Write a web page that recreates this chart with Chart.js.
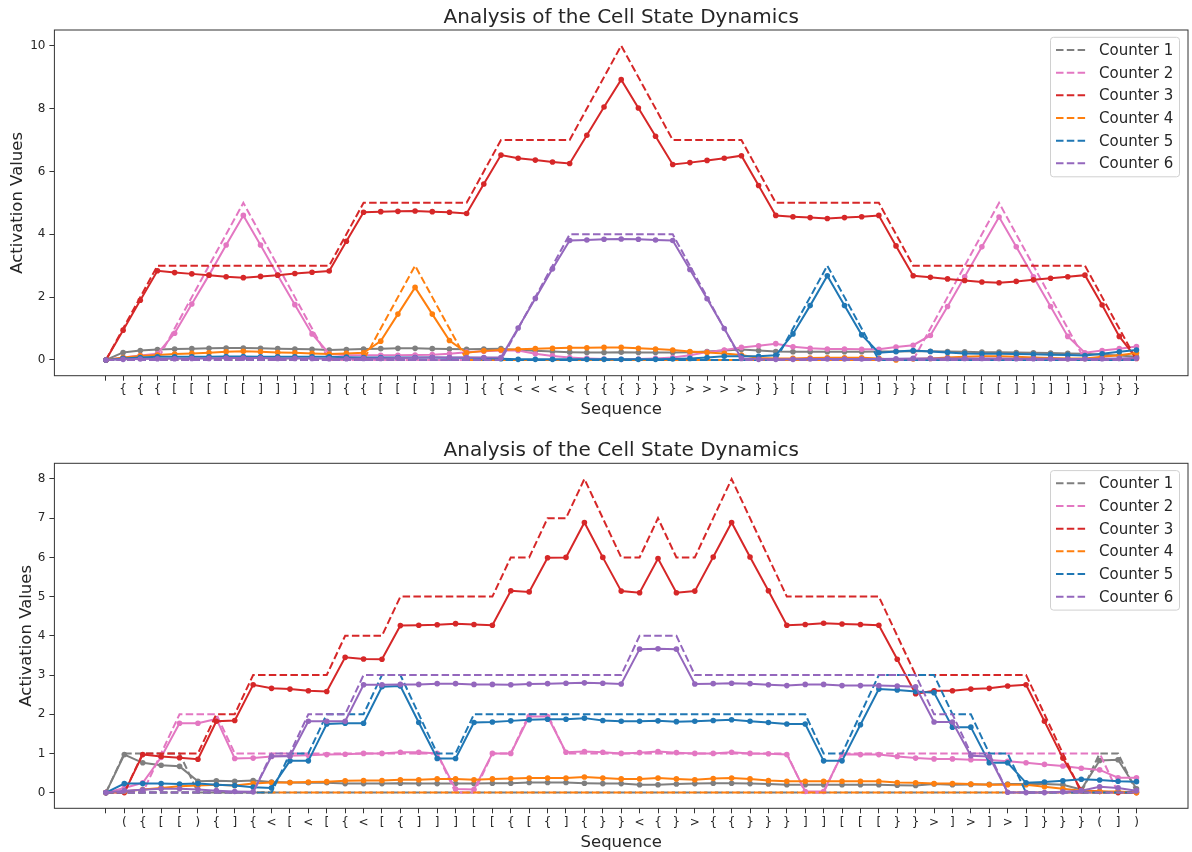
<!DOCTYPE html>
<html><head><meta charset="utf-8">
<script src="https://cdn.jsdelivr.net/npm/chart.js@4.4.1/dist/chart.umd.min.js"></script>
<style>
html,body{margin:0;padding:0;background:#fff;width:1192px;height:852px;overflow:hidden;}
canvas{position:absolute;left:0;}
#c1{top:0}#c2{top:426px}
</style></head><body>
<canvas id="c1" width="1192" height="426"></canvas>
<canvas id="c2" width="1192" height="426"></canvas>
<script>
// ---------------- data: top panel ----------------
const topLabels = ['', '{','{','{','[','[','[','[','[',']',']',']',']',']','{','{','[','[','[',']',']',']','{','{','<','<','<','<','{','{','{','}','}','}','>','>','>','>','}','}','[','[','[',']',']',']','}','}','[','[','[','[','[',']',']',']',']',']','}','}','}'];
const topC1 = [0,.24,.3,.33,.35,.36,.37,.38,.38,.37, .36,.35,.34,.32,.33,.35,.36,.37,.37,.36, .35,.34,.35,.36,.32,.29,.27,.25,.24,.24, .25,.24,.24,.24,.25,.27,.3,.33,.3,.27, .26,.26,.26,.26,.26,.27,.27,.28,.28,.27, .26,.25,.25,.24,.23,.22,.21,.2,.17,.14,.1];
const topC2 = [0,.08,.14,.2,.85,1.78,2.7,3.66,4.6,3.66,2.7,1.76,.83,.2, .15,.15,.15,.15,.16,.17,.2,.25,.28,.3,.3,.2,.13,.08, .05,.03,.02,.03,.05,.08, .15,.25,.32,.4,.45,.52,.42,.37,.35,.35,.34,.34,.41,.47, .78,1.7,2.65,3.6,4.55,3.6,2.65,1.7,.75,.23, .3,.36,.43];
const topC3 = [0,.95,1.9,2.84,2.78,2.74,2.7,2.65,2.62,2.66,2.7,2.75,2.79,2.83, 3.78,4.7,4.72,4.73,4.74,4.72,4.7,4.66, 5.6,6.52,6.42,6.36,6.3,6.25, 7.15,8.05,8.92,8.02,7.12,6.22, 6.28,6.35,6.42,6.5, 5.55,4.6,4.56,4.53,4.5,4.53,4.56,4.6, 3.63,2.68,2.63,2.58,2.53,2.48,2.46,2.5,2.55,2.6,2.65,2.7, 1.75,.75,.05];
const topC4 = [0,.08,.13,.16,.19,.21,.23,.26,.28,.26, .24,.23,.21,.19,.21,.23,.6,1.46,2.31,1.46, .62,.23,.29,.32,.34,.36,.37,.39,.39,.4, .4,.37,.35,.32,.27,.24,.21,.16,.06,.05, .05,.06,.07,.07,.07,.05,0,.03,.05,.08, .1,.12,.12,.1,.08,.06,.05,.05,.1,.15,.22];
const topC5 = [0,.05,.08,.1,.1,.1,.1,.11,.11,.1, .1,.1,.1,.1,.09,.08,.08,.08,.08,.08, .07,.07,.06,.04,.02,.02,.02,.02,.02,.02, .02,.02,.02,.03,.05,.08,.12,.12,.12,.15, .83,1.73,2.68,1.73,.8,.23,.27,.3,.27,.24, .21,.2,.2,.19,.18,.17,.16,.14,.2,.26,.32];
const topC6 = [0,.02,.03,.04,.04,.05,.05,.06,.06,.06, .05,.05,.05,.04,.04,.05,.05,.06,.07,.08, .08,.08,.08,.08,1.02,1.96,2.9,3.8,3.82,3.84, 3.85,3.84,3.82,3.8,2.88,1.95,1.0,.05,.02,.02, .02,.03,.03,.03,.03,.03,.04,.05,.05,.05, .05,.05,.05,.04,.04,.04,.03,.03,.04,.05,.06];
const topIdeal1 = [0,0,0,0,0,0,0,0,0,0, 0,0,0,0,0,0,0,0,0,0, 0,0,0,0,0,0,0,0,0,0, 0,0,0,0,0,0,0,0,0,0, 0,0,0,0,0,0,0,0,0,0, 0,0,0,0,0,0,0,0,0,0,0];
const topIdeal2 = [0,0,0,0,1,2,3,4,5,4, 3,2,1,0,0,0,0,0,0,0, 0,0,0,0,0,0,0,0,0,0, 0,0,0,0,0,0,0,0,0,0, 0,0,0,0,0,0,0,0,1,2, 3,4,5,4,3,2,1,0,0,0,0];
const topIdeal3 = [0,1,2,3,3,3,3,3,3,3, 3,3,3,3,4,5,5,5,5,5, 5,5,6,7,7,7,7,7,8,9, 10,9,8,7,7,7,7,7,6,5, 5,5,5,5,5,5,4,3,3,3, 3,3,3,3,3,3,3,3,2,1,0];
const topIdeal4 = [0,0,0,0,0,0,0,0,0,0, 0,0,0,0,0,0,1,2,3,2, 1,0,0,0,0,0,0,0,0,0, 0,0,0,0,0,0,0,0,0,0, 0,0,0,0,0,0,0,0,0,0, 0,0,0,0,0,0,0,0,0,0,0];
const topIdeal5 = [0,0,0,0,0,0,0,0,0,0, 0,0,0,0,0,0,0,0,0,0, 0,0,0,0,0,0,0,0,0,0, 0,0,0,0,0,0,0,0,0,0, 1,2,3,2,1,0,0,0,0,0, 0,0,0,0,0,0,0,0,0,0,0];
const topIdeal6 = [0,0,0,0,0,0,0,0,0,0, 0,0,0,0,0,0,0,0,0,0, 0,0,0,0,1,2,3,4,4,4, 4,4,4,4,3,2,1,0,0,0, 0,0,0,0,0,0,0,0,0,0, 0,0,0,0,0,0,0,0,0,0,0];
const topYTicks = [0,2,4,6,8,10];

// ---------------- data: bottom panel ----------------
const botLabels = ['', '(', '{', '[', '[', ')', '{', ']', '{', '<', '[', '<', '[', '{', '<', '[', '{', ']', ']', ']', '[', '[', '{', '[', '{', ']', '{', '}', '}', '<', '{', '}', '>', '{', '{', '}', '}', '}', ']', ']', '[', '[', '[', '}', '}', '>', ']', '>', ']', '>', ']', '}', '}', '}', '(', ']', ')'];
const botC1 = [0,.97,.76,.7,.67,.29,.3,.29,.31,.27, .26,.25,.25,.23,.23,.23,.24,.23,.23,.23, .23,.24,.24,.26,.26,.26,.24,.23,.23,.2, .2,.22,.23,.24,.24,.23,.22,.2,.2,.2, .2,.2,.2,.19,.18,.22,.2,.21,.21,.22, .22,.22,.2,.08,.82,.84,.1];
const botC2 = [0,.12,.25,.9,1.77,1.77,1.88,.87,.88,.92, .94,.95,.97,.98,1,1,1.03,1.03,1,.09, .08,1,1,1.94,1.94,1.03,1.05,1.03,1,1.02, 1.05,1.02,1,1,1.03,1,.99,.97,.03,.03, .98,.97,.97,.92,.88,.86,.86,.84,.83,.8, .76,.72,.68,.62,.58,.38,.38];
const botC3 = [0,0,.97,.92,.89,.85,1.82,1.84,2.75,2.66, 2.64,2.6,2.58,3.45,3.41,3.4,4.26,4.27,4.28,4.31, 4.29,4.27,5.15,5.12,5.99,6,6.89,6,5.14,5.1, 5.97,5.1,5.14,6.01,6.89,6.01,5.15,4.27,4.29,4.32, 4.3,4.29,4.27,3.4,2.52,2.6,2.6,2.64,2.66,2.72, 2.75,1.82,.88,.06,.03,0,0];
const botC4 = [0,.03,.08,.12,.16,.18,.2,.18,.23,.26, .26,.27,.28,.3,.31,.31,.33,.33,.35,.35, .33,.35,.36,.37,.37,.37,.4,.37,.35,.35, .37,.35,.33,.36,.37,.35,.31,.29,.29,.29, .29,.29,.29,.26,.25,.23,.23,.22,.2,.2, .2,.15,.1,.05,.03,.03,0];
const botC5 = [0,.23,.23,.23,.22,.23,.2,.18,.14,.12, .81,.81,1.75,1.77,1.77,2.7,2.72,1.79,.87,.87, 1.79,1.8,1.83,1.86,1.87,1.87,1.9,1.84,1.82,1.82, 1.83,1.81,1.82,1.84,1.86,1.82,1.79,1.75,1.75,.81, .81,1.73,2.64,2.62,2.58,2.55,1.67,1.67,.76,.76, .25,.27,.3,.34,.32,.29,.28];
const botC6 = [0,.05,.07,.1,.1,.08,.05,.03,.02,.93, .93,1.82,1.82,1.82,2.75,2.75,2.76,2.76,2.78,2.78, 2.76,2.76,2.75,2.77,2.78,2.79,2.8,2.79,2.77,3.66, 3.67,3.66,2.77,2.78,2.79,2.78,2.75,2.73,2.76,2.76, 2.73,2.73,2.73,2.72,2.7,1.8,1.8,.94,.92,.01, 0,0,.02,.05,.15,.12,.05];
const botIdeal1 = [0,1,1,1,1,0,0,0,0,0, 0,0,0,0,0,0,0,0,0,0, 0,0,0,0,0,0,0,0,0,0, 0,0,0,0,0,0,0,0,0,0, 0,0,0,0,0,0,0,0,0,0, 0,0,0,0,1,1,0];
const botIdeal2 = [0,0,0,1,2,2,2,1,1,1, 1,1,1,1,1,1,1,1,1,0, 0,1,1,2,2,1,1,1,1,1, 1,1,1,1,1,1,1,1,0,0, 1,1,1,1,1,1,1,1,1,1, 1,1,1,1,1,0,0];
const botIdeal3 = [0,0,1,1,1,1,2,2,3,3, 3,3,3,4,4,4,5,5,5,5, 5,5,6,6,7,7,8,7,6,6, 7,6,6,7,8,7,6,5,5,5, 5,5,5,4,3,3,3,3,3,3, 3,2,1,0,0,0,0];
const botIdeal4 = [0,0,0,0,0,0,0,0,0,0, 0,0,0,0,0,0,0,0,0,0, 0,0,0,0,0,0,0,0,0,0, 0,0,0,0,0,0,0,0,0,0, 0,0,0,0,0,0,0,0,0,0, 0,0,0,0,0,0,0];
const botIdeal5 = [0,0,0,0,0,0,0,0,0,0, 1,1,2,2,2,3,3,2,1,1, 2,2,2,2,2,2,2,2,2,2, 2,2,2,2,2,2,2,2,2,1, 1,2,3,3,3,3,2,2,1,1, 0,0,0,0,0,0,0];
const botIdeal6 = [0,0,0,0,0,0,0,0,0,1, 1,2,2,2,3,3,3,3,3,3, 3,3,3,3,3,3,3,3,3,4, 4,4,3,3,3,3,3,3,3,3, 3,3,3,3,3,2,2,1,1,0, 0,0,0,0,0,0,0];
const botYTicks = [0,1,2,3,4,5,6,7,8];

const seriesNames = ['Counter 1','Counter 2','Counter 3','Counter 4','Counter 5','Counter 6'];
const seriesColors = ['#7f7f7f','#e377c2','#d62728','#ff7f0e','#1f77b4','#9467bd'];
const chartTitle = 'Analysis of the Cell State Dynamics';
const xTitle = 'Sequence';
const yTitle = 'Activation Values';

// ---------------- drawing ----------------
Chart.defaults.font.family = '"DejaVu Sans", sans-serif';
Chart.defaults.color = '#262626';

const deco = {
  id: 'deco',
  afterDatasetsDraw(chart, args, o) {
    const ctx = chart.ctx, a = chart.chartArea;
    ctx.save();
    ctx.strokeStyle = '#333'; ctx.lineWidth = 1; ctx.setLineDash([]);
    ctx.strokeRect(a.left, a.top, a.right - a.left, a.bottom - a.top);
    ctx.fillStyle = '#262626';
    ctx.textAlign = 'center'; ctx.textBaseline = 'alphabetic';
    ctx.font = '20px "DejaVu Sans"';
    ctx.fillText(chartTitle, (a.left + a.right) / 2, a.top - 7);
    ctx.font = '16.5px "DejaVu Sans"';
    ctx.fillText(xTitle, (a.left + a.right) / 2, a.bottom + 38.5);
    ctx.save();
    ctx.translate(o.yTitleX, (a.top + a.bottom) / 2);
    ctx.rotate(-Math.PI / 2);
    ctx.fillText(yTitle, 0, 0);
    ctx.restore();
    // legend
    const lx = a.right - 137.5, ly = a.top + 7.3, lw = 129, lh = 139.5, r = 3;
    ctx.beginPath();
    ctx.moveTo(lx + r, ly); ctx.lineTo(lx + lw - r, ly); ctx.arcTo(lx + lw, ly, lx + lw, ly + r, r);
    ctx.lineTo(lx + lw, ly + lh - r); ctx.arcTo(lx + lw, ly + lh, lx + lw - r, ly + lh, r);
    ctx.lineTo(lx + r, ly + lh); ctx.arcTo(lx, ly + lh, lx, ly + lh - r, r);
    ctx.lineTo(lx, ly + r); ctx.arcTo(lx, ly, lx + r, ly, r); ctx.closePath();
    ctx.fillStyle = 'rgba(255,255,255,0.8)'; ctx.fill();
    ctx.strokeStyle = '#d0d0d0'; ctx.lineWidth = 1; ctx.stroke();
    ctx.font = '15px "DejaVu Sans"'; ctx.textAlign = 'left'; ctx.textBaseline = 'middle';
    seriesNames.forEach((n, i) => {
      const y = ly + 12.7 + 22.67 * i;
      ctx.strokeStyle = seriesColors[i]; ctx.lineWidth = 2; ctx.setLineDash([7.5, 3.3]);
      ctx.beginPath(); ctx.moveTo(lx + 5.5, y); ctx.lineTo(lx + 37.5, y); ctx.stroke();
      ctx.setLineDash([]);
      ctx.fillStyle = '#262626';
      ctx.fillText(n, lx + 48.5, y + 1);
    });
    ctx.restore();
  }
};

function makeChart(id, labels, solids, ideals, yTicks, padTop, padBottom, yTitleX) {
  const n = labels.length;
  const xm = 0.05 * (n - 1);
  const yMaxData = Math.max(...ideals.flat(), ...solids.flat());
  const yTop = Math.max(...yTicks);
  const ym = 0.05 * yTop;
  const datasets = [];
  let k = 0;
  for (let s = 0; s < 6; s++) {
    datasets.push({
      label: seriesNames[s] + ' actual',
      data: solids[s].map((v, i) => ({x: i, y: v})),
      borderColor: seriesColors[s], backgroundColor: seriesColors[s],
      borderWidth: 2, pointRadius: 2.8, pointBorderWidth: 0, pointBackgroundColor: seriesColors[s],
      tension: 0, order: 100 - (k++)
    });
    datasets.push({
      label: seriesNames[s],
      data: ideals[s].map((v, i) => ({x: i, y: v})),
      borderColor: seriesColors[s], backgroundColor: seriesColors[s],
      borderWidth: 2, borderDash: [7.5, 3.3], pointRadius: 0,
      tension: 0, order: 100 - (k++)
    });
  }
  return new Chart(document.getElementById(id), {
    type: 'line',
    data: {datasets},
    options: {
      responsive: false, animation: false, devicePixelRatio: 1,
      layout: {padding: {left: 0, right: 2.5, top: padTop, bottom: padBottom}},
      plugins: {legend: {display: false}, tooltip: {enabled: false}, title: {display: false}, deco: {yTitleX}},
      scales: {
        x: {
          type: 'linear', min: -xm, max: n - 1 + xm,
          afterBuildTicks: (sc) => { sc.ticks = labels.map((_, i) => ({value: i})); },
          afterFit: (sc) => { sc.height = 40; },
          ticks: {autoSkip: false, maxRotation: 0, minRotation: 0, padding: 2, color: '#262626',
                  font: {size: 12}, callback: (v) => labels[v] ?? ''},
          grid: {display: true, drawOnChartArea: false, drawTicks: true, tickLength: 5, tickColor: '#333', tickWidth: 1},
          border: {display: false}
        },
        y: {
          type: 'linear', min: -ym, max: yTop + ym,
          afterBuildTicks: (sc) => { sc.ticks = yTicks.map(v => ({value: v})); },
          afterFit: (sc) => { sc.width = 54.4; },
          ticks: {padding: 4, color: '#262626', font: {size: 12}, callback: (v) => String(v)},
          grid: {display: true, drawOnChartArea: false, drawTicks: true, tickLength: 5, tickColor: '#333', tickWidth: 1},
          border: {display: false}
        }
      }
    },
    plugins: [deco]
  });
}

makeChart('c1', topLabels, [topC1, topC2, topC3, topC4, topC5, topC6],
  [topIdeal1, topIdeal2, topIdeal3, topIdeal4, topIdeal5, topIdeal6], topYTicks, 30, 10.3, 21.5);
makeChart('c2', botLabels, [botC1, botC2, botC3, botC4, botC5, botC6],
  [botIdeal1, botIdeal2, botIdeal3, botIdeal4, botIdeal5, botIdeal6], botYTicks, 37.3, 3.7, 30.5);
</script>
</body></html>
